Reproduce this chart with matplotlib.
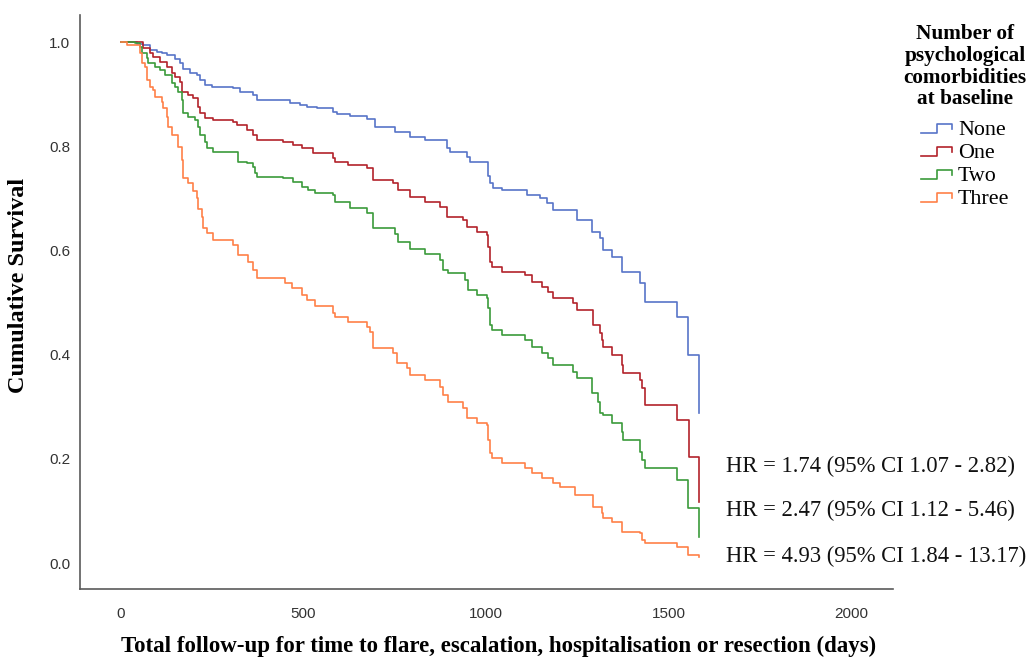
import numpy as np
import matplotlib
matplotlib.use('Agg')
from matplotlib import pyplot as plt
from matplotlib.lines import Line2D
from matplotlib.legend_handler import HandlerBase

# Kaplan-Meier estimates: time (days) of each drop and survival after it
none_t = [0, 44, 60, 79, 99, 112, 126, 148, 162, 170, 189, 208, 216, 230, 249, 307, 326, 362, 373,
          463, 490, 510, 537, 581, 592, 627, 674, 696, 751, 792, 833, 893, 901, 948, 956, 1005,
          1011, 1019, 1044, 1112, 1148, 1167, 1184, 1249, 1290, 1312, 1321, 1345, 1373, 1422, 1436,
          1523, 1553, 1584]
none_s = [1.0, 0.997, 0.994, 0.985, 0.981, 0.979, 0.975, 0.967, 0.960, 0.948, 0.940, 0.937, 0.927,
          0.917, 0.914, 0.912, 0.904, 0.898, 0.889, 0.883, 0.879, 0.875, 0.873, 0.866, 0.862, 0.858,
          0.852, 0.837, 0.827, 0.818, 0.812, 0.797, 0.789, 0.779, 0.770, 0.743, 0.729, 0.720, 0.716,
          0.706, 0.701, 0.691, 0.678, 0.658, 0.635, 0.624, 0.601, 0.587, 0.559, 0.537, 0.501, 0.472,
          0.399, 0.288]

one_t = [0, 60, 79, 88, 107, 126, 140, 148, 162, 167, 184, 197, 211, 216, 230, 252, 307, 318, 345,
         362, 373, 444, 471, 496, 526, 581, 586, 622, 674, 690, 745, 759, 792, 833, 874, 893, 937,
         948, 975, 1003, 1005, 1011, 1016, 1044, 1107, 1126, 1153, 1170, 1184, 1238, 1249, 1293,
         1312, 1318, 1321, 1345, 1373, 1375, 1422, 1427, 1436, 1523, 1556, 1584]
one_s = [1.0, 0.988, 0.979, 0.971, 0.962, 0.952, 0.940, 0.933, 0.923, 0.904, 0.898, 0.892, 0.875,
         0.864, 0.854, 0.850, 0.846, 0.841, 0.831, 0.822, 0.812, 0.808, 0.802, 0.797, 0.787, 0.777,
         0.770, 0.764, 0.758, 0.735, 0.729, 0.716, 0.702, 0.693, 0.683, 0.664, 0.658, 0.645, 0.635,
         0.630, 0.607, 0.578, 0.568, 0.559, 0.553, 0.539, 0.530, 0.520, 0.509, 0.499, 0.486, 0.457,
         0.441, 0.428, 0.415, 0.399, 0.380, 0.365, 0.351, 0.336, 0.303, 0.274, 0.203, 0.117]

two_t = [0, 38, 52, 58, 71, 74, 93, 107, 121, 140, 148, 156, 167, 170, 184, 203, 211, 216, 230, 236,
         252, 321, 345, 362, 367, 373, 444, 471, 496, 512, 532, 581, 586, 627, 674, 690, 751, 759,
         792, 833, 874, 882, 896, 942, 951, 975, 1003, 1005, 1011, 1016, 1044, 1107, 1126, 1153,
         1170, 1184, 1238, 1249, 1290, 1307, 1312, 1321, 1345, 1373, 1375, 1422, 1427, 1436, 1523,
         1553, 1584]
two_s = [1.0, 0.998, 0.990, 0.979, 0.969, 0.960, 0.952, 0.946, 0.937, 0.921, 0.914, 0.904, 0.889,
         0.864, 0.856, 0.850, 0.837, 0.822, 0.808, 0.797, 0.789, 0.770, 0.768, 0.760, 0.749, 0.741,
         0.739, 0.731, 0.722, 0.716, 0.710, 0.706, 0.693, 0.681, 0.672, 0.643, 0.631, 0.616, 0.603,
         0.593, 0.582, 0.562, 0.557, 0.543, 0.524, 0.514, 0.509, 0.489, 0.457, 0.447, 0.438, 0.428,
         0.415, 0.403, 0.393, 0.380, 0.367, 0.355, 0.326, 0.309, 0.288, 0.284, 0.269, 0.251, 0.236,
         0.213, 0.198, 0.182, 0.159, 0.106, 0.050]

three_t = [0, 16, 52, 58, 66, 71, 79, 88, 93, 112, 115, 126, 129, 140, 156, 167, 170, 184, 197, 208,
           211, 222, 225, 236, 252, 307, 321, 348, 362, 373, 449, 468, 496, 510, 532, 581, 586, 622,
           674, 682, 690, 745, 756, 784, 792, 833, 874, 882, 896, 937, 948, 975, 1003, 1005, 1011,
           1016, 1044, 1107, 1126, 1153, 1184, 1203, 1244, 1293, 1318, 1321, 1345, 1373, 1422, 1427,
           1436, 1523, 1553, 1584]
three_s = [1.0, 0.994, 0.979, 0.960, 0.952, 0.927, 0.914, 0.908, 0.894, 0.885, 0.873, 0.856, 0.837,
           0.822, 0.798, 0.774, 0.739, 0.729, 0.714, 0.701, 0.679, 0.664, 0.643, 0.633, 0.620, 0.610,
           0.591, 0.578, 0.562, 0.547, 0.537, 0.528, 0.514, 0.505, 0.493, 0.480, 0.472, 0.463, 0.453,
           0.443, 0.413, 0.403, 0.384, 0.374, 0.361, 0.351, 0.338, 0.322, 0.309, 0.298, 0.278, 0.269,
           0.265, 0.236, 0.211, 0.202, 0.192, 0.182, 0.173, 0.163, 0.154, 0.146, 0.131, 0.107, 0.096,
           0.086, 0.079, 0.060, 0.058, 0.044, 0.038, 0.031, 0.015, 0.012]

groups = ['None', 'One', 'Two', 'Three']
colors = ['#5874c8', '#b3232b', '#3b9b3b', '#ff8048']

# hazard ratios vs. no comorbidity, with y position of each label
hr_labels = ['HR = 1.74 (95% CI 1.07 - 2.82)',
             'HR = 2.47 (95% CI 1.12 - 5.46)',
             'HR = 4.93 (95% CI 1.84 - 13.17)']
hr_y = [0.186, 0.100, 0.012]

x_ticks = [0, 500, 1000, 1500, 2000]
y_ticks = [0.0, 0.2, 0.4, 0.6, 0.8, 1.0]

SERIF = 'Liberation Serif'
SANS = 'Liberation Sans'


class StepHandler(HandlerBase):
    """Draws the little step icon used in the legend."""
    def create_artists(self, legend, orig_handle, xdescent, ydescent,
                       width, height, fontsize, trans):
        x0 = -xdescent
        y0 = -ydescent
        xs = np.array([0.0, 0.5, 0.5, 1.0, 1.0]) * width + x0
        ys = np.array([0.15, 0.15, 0.75, 0.75, 0.4]) * height + y0
        line = Line2D(xs, ys, color=orig_handle.get_color(),
                      linewidth=orig_handle.get_linewidth(), transform=trans)
        return [line]


def main():
    fig = plt.figure(figsize=(10.36, 6.59), dpi=100)
    ax = fig.add_axes([80 / 1036, 70 / 659, 813 / 1036, 574 / 659])

    series = [(none_t, none_s), (one_t, one_s), (two_t, two_s), (three_t, three_s)]
    handles = []
    for (t, s), name, c in zip(series, groups, colors):
        h, = ax.plot(t, s, drawstyle='steps-post', color=c, lw=1.2, label=name)
        handles.append(h)

    for label, y in zip(hr_labels, hr_y):
        ax.text(1658, y, label, fontsize=16.3, family=SERIF, va='center', ha='left',
                color='#111111', clip_on=False)

    ax.set_xlim(-112, 2115)
    ax.set_ylim(-0.0499, 1.052)
    ax.set_xticks(x_ticks)
    ax.set_yticks(y_ticks)
    ax.set_xticklabels([str(v) for v in x_ticks])
    ax.set_yticklabels(['%.1f' % v for v in y_ticks])
    ax.tick_params(length=0, labelsize=11, labelcolor='#333333')
    ax.tick_params(axis='x', pad=13)
    ax.tick_params(axis='y', pad=7)
    for lab in ax.get_xticklabels() + ax.get_yticklabels():
        lab.set_family(SANS)

    for side in ['top', 'right']:
        ax.spines[side].set_visible(False)
    for side in ['left', 'bottom']:
        ax.spines[side].set_color('#5a5a5a')
        ax.spines[side].set_linewidth(1.2)

    fig.text(499 / 1036, 1 - 646 / 659,
             'Total follow-up for time to flare, escalation, hospitalisation or resection (days)',
             ha='center', va='center', fontsize=16.5, fontweight='bold', family=SERIF)
    fig.text(19 / 1036, 1 - 285 / 659, 'Cumulative Survival', rotation=90,
             ha='center', va='center', fontsize=17.5, fontweight='bold', family=SERIF)

    # legend title sits on its own above the entries
    fig.text(965 / 1036, 1 - 24 / 659,
             'Number of\npsychological\ncomorbidities\nat baseline',
             ha='center', va='top', multialignment='center', linespacing=1.12,
             fontsize=15.3, fontweight='bold', family=SERIF)
    fig.legend(handles=handles, labels=groups,
               handler_map={Line2D: StepHandler()},
               loc='upper center', bbox_to_anchor=(965 / 1036, 1 - 109 / 659),
               frameon=False, prop={'family': SERIF, 'size': 15.8},
               handlelength=1.45, handleheight=0.7, handletextpad=0.25,
               labelspacing=0.12, borderpad=0.0)

    fig.savefig('out.png', dpi=100)


if __name__ == '__main__':
    main()
